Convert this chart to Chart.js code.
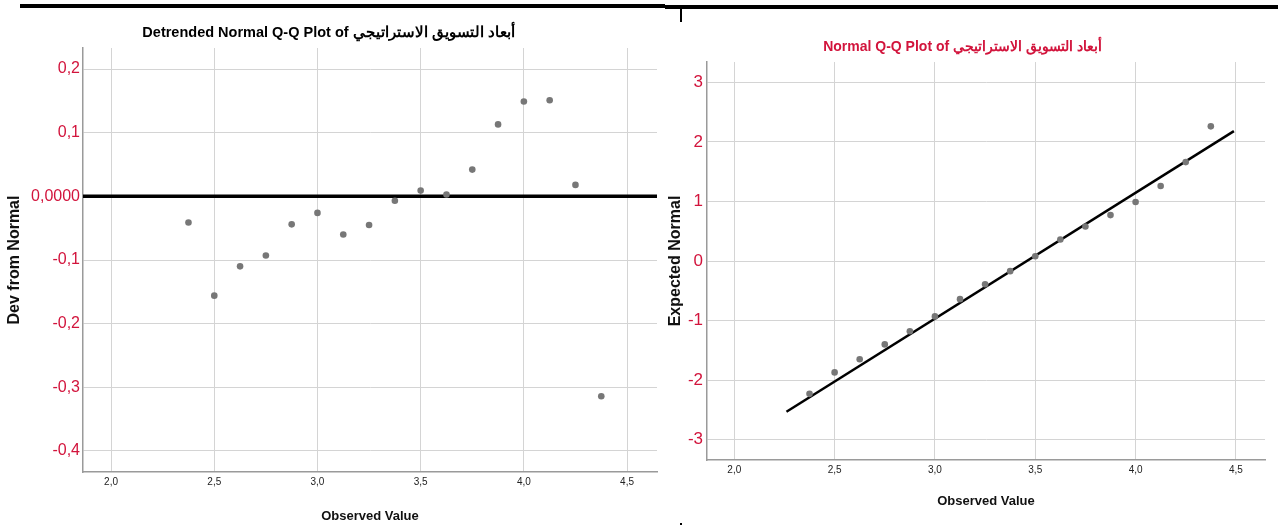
<!DOCTYPE html>
<html>
<head>
<meta charset="utf-8">
<script src="https://cdn.jsdelivr.net/npm/chart.js@4/dist/chart.umd.min.js"></script>
<style>
  html, body { margin: 0; padding: 0; background: #fff; }
  body { width: 1278px; height: 526px; position: relative; overflow: hidden; }
  .wrap { position: absolute; top: 0; }
  #leftWrap { left: 0; }
  #rightWrap { left: 660px; }
  .rule { position: absolute; background: #000; }
</style>
</head>
<body>
<div class="wrap" id="leftWrap"><canvas id="detrendedChart" width="665" height="526"></canvas></div>
<div class="wrap" id="rightWrap"><canvas id="qqChart" width="610" height="526"></canvas></div>
<div class="rule" style="left:20px; top:4px; width:645px; height:4px"></div>
<div class="rule" style="left:665px; top:5px; width:613px; height:4px"></div>
<div class="rule" style="left:680px; top:8px; width:2px; height:14px"></div>
<div class="rule" style="left:680px; top:523px; width:2px; height:2px"></div>
<script>
// observed values of the scale (same 17 points in both plots)
const observed = [2.375, 2.5, 2.625, 2.75, 2.875, 3.0, 3.125, 3.25, 3.375, 3.5, 3.625, 3.75, 3.875, 4.0, 4.125, 4.25, 4.375];
const devFromNormal = [-0.041, -0.156, -0.110, -0.093, -0.044, -0.026, -0.060, -0.045, -0.007, 0.009, 0.003, 0.042, 0.113, 0.149, 0.151, 0.018, -0.314];
const expectedNormal = [-2.23, -1.87, -1.65, -1.40, -1.18, -0.93, -0.64, -0.39, -0.17, 0.08, 0.36, 0.58, 0.77, 0.99, 1.26, 1.66, 2.26];

// reference line of the normal Q-Q plot (end points)
const fitLineX = [2.26, 4.49];
const fitLineY = [-2.53, 2.18];

const xTicks = [2.0, 2.5, 3.0, 3.5, 4.0, 4.5];
const devTicks = [-0.4, -0.3, -0.2, -0.1, 0, 0.1, 0.2];
const expTicks = [-3, -2, -1, 0, 1, 2, 3];

const xRange = [1.864, 4.645];
const devRange = [-0.433, 0.233];
const expRange = [-3.34, 3.34];

const varName = "أبعاد التسويق الاستراتيجي";

const RED = "#d2143c";
const SANS = "'Liberation Sans', Arial, sans-serif";

const comma = v => v.toFixed(1).replace(".", ",");

function xScale(height, titlePad) {
    return {
        type: "linear",
        min: xRange[0],
        max: xRange[1],
        afterBuildTicks: s => { s.ticks = xTicks.map(v => ({ value: v })); },
        afterFit: s => { s.height = height; },
        grid: { color: "#d4d4d4", lineWidth: 1, drawTicks: false },
        border: { color: "#9a9a9a", width: 1.5 },
        ticks: {
            padding: 4,
            color: "#222",
            font: { family: SANS, size: 10 },
            callback: v => comma(v)
        },
        title: {
            display: true,
            text: "Observed Value",
            color: "#111",
            font: { family: SANS, size: 13, weight: "bold" },
            padding: { top: 0, bottom: titlePad }
        }
    };
}

function yScale(opts) {
    return {
        type: "linear",
        min: opts.range[0],
        max: opts.range[1],
        afterBuildTicks: s => { s.ticks = opts.ticks.map(v => ({ value: v })); },
        afterFit: s => { s.width = opts.width; },
        grid: { color: "#d4d4d4", lineWidth: 1, drawTicks: false },
        border: { color: "#9a9a9a", width: 1.5 },
        ticks: {
            padding: opts.tickPad,
            color: RED,
            font: { family: SANS, size: opts.tickSize },
            callback: opts.format
        },
        title: {
            display: true,
            text: opts.title,
            color: "#111",
            font: { family: SANS, size: 16, weight: "bold" },
            padding: { top: opts.titlePad, bottom: 0 }
        }
    };
}

const points = (ys) => observed.map((x, i) => ({ x: x, y: ys[i] }));

const pointStyle = {
    backgroundColor: "#777",
    borderWidth: 0,
    pointRadius: 3.3,
    pointHoverRadius: 3.3
};

// Detrended plot
new Chart(document.getElementById("detrendedChart"), {
    type: "scatter",
    data: {
        datasets: [
            Object.assign({ data: points(devFromNormal) }, pointStyle),
            {
                data: xRange.map(x => ({ x: x, y: 0 })),
                showLine: true,
                borderColor: "#000",
                borderWidth: 3.5,
                pointRadius: 0
            }
        ]
    },
    options: {
        responsive: false,
        animation: false,
        devicePixelRatio: 1,
        layout: { padding: { left: 0, right: 8, top: 0, bottom: 0 } },
        plugins: {
            legend: { display: false },
            tooltip: { enabled: false },
            title: {
                display: true,
                text: "Detrended Normal Q-Q Plot of " + varName,
                color: "#000",
                font: { family: SANS, size: 14.5, weight: "bold" },
                padding: { top: 24.3, bottom: 6.3 }
            }
        },
        scales: {
            x: xScale(54, 2.2),
            y: yScale({
                range: devRange, ticks: devTicks, width: 83, tickPad: 3, tickSize: 16,
                title: "Dev from Normal", titlePad: 5,
                format: v => (v === 0 ? "0,0000" : comma(v))
            })
        }
    }
});

// Normal Q-Q plot
new Chart(document.getElementById("qqChart"), {
    type: "scatter",
    data: {
        datasets: [
            Object.assign({ data: points(expectedNormal) }, pointStyle),
            {
                data: fitLineX.map((x, i) => ({ x: x, y: fitLineY[i] })),
                showLine: true,
                borderColor: "#000",
                borderWidth: 2.5,
                pointRadius: 0
            }
        ]
    },
    options: {
        responsive: false,
        animation: false,
        devicePixelRatio: 1,
        layout: { padding: { left: 0, right: 5, top: 0, bottom: 0 } },
        plugins: {
            legend: { display: false },
            tooltip: { enabled: false },
            title: {
                display: true,
                text: "Normal Q-Q Plot of " + varName,
                color: RED,
                font: { family: SANS, size: 14, weight: "bold" },
                padding: { top: 38.6, bottom: 6.6 }
            }
        },
        scales: {
            x: xScale(66, 17.2),
            y: yScale({
                range: expRange, ticks: expTicks, width: 47, tickPad: 4, tickSize: 17,
                title: "Expected Normal", titlePad: 6,
                format: v => String(v)
            })
        }
    }
});
</script>
</body>
</html>
